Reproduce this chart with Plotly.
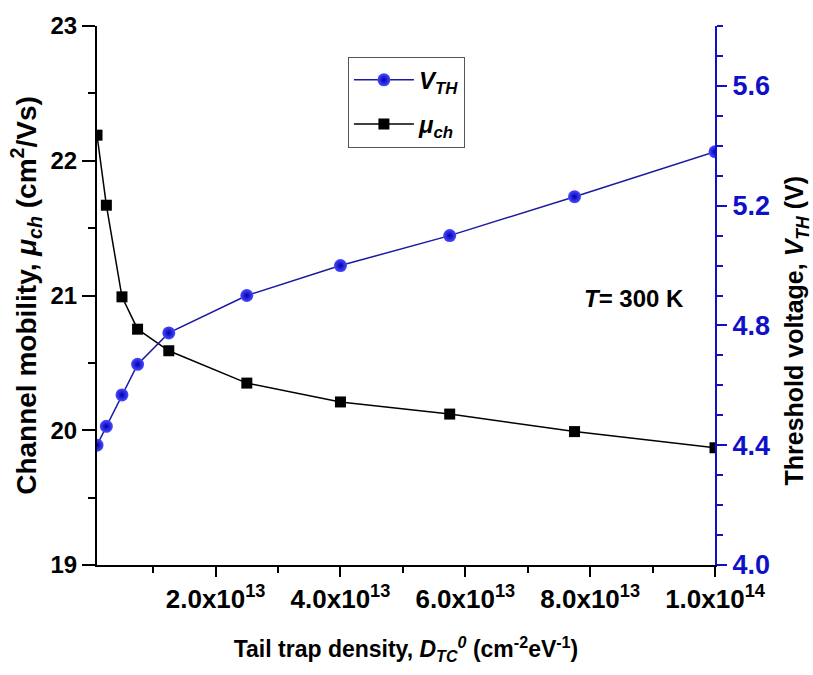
import plotly.graph_objects as go

# Data
density = [1e12, 2.5e12, 5e12, 7.5e12, 1.25e13, 2.5e13, 4e13, 5.75e13, 7.75e13, 1e14]
vth = [4.40, 4.463, 4.568, 4.670, 4.775, 4.900, 5.00, 5.10, 5.23, 5.38]
mu_ch = [22.19, 21.67, 20.99, 20.75, 20.59, 20.35, 20.21, 20.12, 19.99, 19.87]

x_tickvals = [2e13, 4e13, 6e13, 8e13, 1e14]
x_ticktext = ["2.0x10<sup>13</sup>", "4.0x10<sup>13</sup>", "6.0x10<sup>13</sup>",
              "8.0x10<sup>13</sup>", "1.0x10<sup>14</sup>"]

BLUE = "#1010c8"
FONT = "Arial, Liberation Sans, sans-serif"
NARROW = "Liberation Sans Narrow, Arial Narrow, Arial, sans-serif"

fig = go.Figure()
fig.add_trace(go.Scatter(
    x=density, y=vth, yaxis="y2", mode="lines+markers",
    name="<b><i>V</i></b><b><i><sub>TH</sub></i></b>", legendgroup="a",
    line=dict(color="#1a1aa0", width=1.5),
    marker=dict(symbol="circle", size=13, color="#4a4aff",
                gradient=dict(type="radial", color="#0000b0"),
                line=dict(width=0)),
))
fig.add_trace(go.Scatter(
    x=density, y=mu_ch, yaxis="y", mode="lines+markers",
    name="<b><i>μ</i></b><b><i><sub>ch</sub></i></b>", legendgroup="b",
    line=dict(color="black", width=1.5),
    marker=dict(symbol="square", size=11, color="black"),
))

fig.add_annotation(
    x=0.953, y=0.494, xref="paper", yref="paper", xanchor="right", yanchor="middle",
    text="<b><i>T</i>= 300 K</b>", showarrow=False,
    font=dict(family=FONT, size=24, color="black"),
)

# Right axis title (placed slightly below centre, as in the reference)
fig.add_annotation(
    x=1.0, y=0.435, xref="paper", yref="paper", xanchor="center", yanchor="middle",
    xshift=81, textangle=-90,
    text="<b>Threshold voltage, <i>V</i><sub><i>TH</i></sub> (V)</b>", showarrow=False,
    font=dict(family=FONT, size=25, color="black"),
)

fig.update_layout(
    width=813, height=675,
    margin=dict(l=97, r=98, t=18, b=110),
    paper_bgcolor="white", plot_bgcolor="white",
    showlegend=True,
    legend=dict(
        x=0.406, y=0.943, xanchor="left", yanchor="top",
        bordercolor="#555555", borderwidth=1, bgcolor="white",
        font=dict(family=FONT, size=24, color="black"),
        itemwidth=60, tracegroupgap=10,
    ),
    xaxis=dict(
        range=[1e12, 1e14],
        tickvals=x_tickvals, ticktext=x_ticktext,
        ticks="outside", ticklen=10, tickwidth=1.5, tickcolor="black",
        minor=dict(dtick=1e13, tick0=0, ticks="outside", ticklen=6, tickcolor="black", tickwidth=1.5),
        showline=True, linecolor="black", linewidth=2,
        showgrid=False, zeroline=False,
        tickfont=dict(family=FONT, size=26, color="black", weight="bold"),
        title=dict(
            text="<b>Tail trap density, <i>D</i><sub><i>TC</i></sub><sup><i>0</i></sup> (cm<sup>-2</sup>eV<sup>-1</sup>)</b>",
            font=dict(family=NARROW, size=23, color="black"), standoff=28,
        ),
    ),
    yaxis=dict(
        range=[19, 23],
        tickvals=[19, 20, 21, 22, 23],
        ticks="outside", ticklen=13, tickwidth=1.5, tickcolor="black",
        minor=dict(dtick=0.5, tick0=19, ticks="outside", ticklen=7, tickcolor="black", tickwidth=1.5),
        showline=True, linecolor="black", linewidth=2,
        showgrid=False, zeroline=False,
        tickfont=dict(family=FONT, size=24, color="black", weight="bold"),
        title=dict(
            text="<b>Channel mobility, <i>μ</i><sub><i>ch</i></sub> (cm<sup>2</sup>/Vs)</b>",
            font=dict(family=FONT, size=28, color="black"), standoff=6,
        ),
    ),
    yaxis2=dict(
        range=[4.0, 5.8], overlaying="y", side="right",
        tickvals=[4.0, 4.4, 4.8, 5.2, 5.6], ticktext=["4.0", "4.4", "4.8", "5.2", "5.6"],
        ticks="outside", ticklen=10, tickwidth=1.5, tickcolor=BLUE,
        minor=dict(dtick=0.1, tick0=4.0, ticks="outside", ticklen=6, tickcolor=BLUE, tickwidth=1.5),
        showline=True, linecolor=BLUE, linewidth=2,
        showgrid=False, zeroline=False,
        tickfont=dict(family=FONT, size=27, color=BLUE, weight="bold"),
    ),
)

fig.write_html("out.html")
